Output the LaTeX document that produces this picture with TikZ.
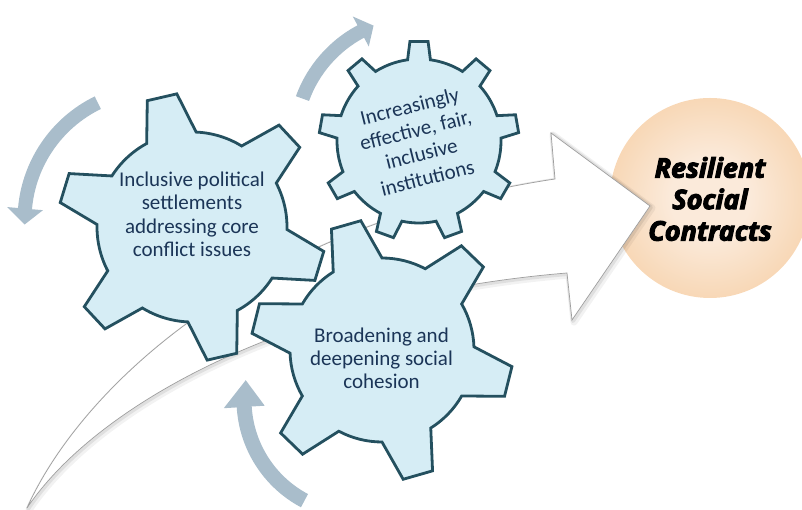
\documentclass[tikz,border=0pt]{standalone}
\usepackage{fontspec}
\newfontfamily\gfont{Carlito}
\newfontfamily\rsfont{Open Sans}[FakeBold=4]
\definecolor{gearfill}{HTML}{D6EDF5}
\definecolor{gearline}{HTML}{24505F}
\definecolor{geartext}{HTML}{1B3557}
\definecolor{bentgray}{HTML}{A9BDCB}
\definecolor{rsA}{HTML}{FBEADA}
\definecolor{rsB}{HTML}{F5CA9C}
\definecolor{rsC}{HTML}{EFB478}
\pgfdeclareradialshading{orangeglow}{\pgfpoint{0bp}{0bp}}{color(0bp)=(rsA); color(10bp)=(rsA); color(36bp)=(rsB); color(50bp)=(rsC)}
\tikzset{
  gear/.style={fill=gearfill, draw=gearline, line width=2.8pt, line join=miter},
  gtext/.style={text=geartext, align=center, font=\gfont\fontsize{21}{23.3}\selectfont},
  bent/.style={fill=bentgray},
  swoosh/.style={fill=white, draw=black!38, line width=.7pt},
  swshadow/.style={draw=black, line join=round},
  goal/.style={circle, minimum size=200pt, inner sep=0pt, shade, shading=orangeglow},
  goaltext/.style={text=black, align=center, font=\rsfont\bfseries\itshape\fontsize{27}{31.5}\selectfont}
}
% cx cy n phi R T b t
\newcommand\gearshape[8]{%
  \draw[gear, shift={(#1,#2)}] ({#4-#7}:#5pt)
    \foreach \k in {1,...,#3}{
      -- ({#4+(\k-1)*360/#3-#8}:#6pt) -- ({#4+(\k-1)*360/#3+#8}:#6pt)
      -- ({#4+(\k-1)*360/#3+#7}:#5pt)
      arc[start angle={#4+(\k-1)*360/#3+#7}, end angle={#4+\k*360/#3-#7}, radius=#5pt]
    } -- cycle;}
% cx cy r w h a1 a2 a3
\newcommand\bentarrow[8]{%
  \pgfmathsetmacro\baRo{#3+#4}\pgfmathsetmacro\baRi{#3-#4}%
  \pgfmathsetmacro\baHo{#3+#5}\pgfmathsetmacro\baHi{#3-#5}%
  \fill[bent, shift={(#1,#2)}] (#6:\baRo pt) arc[start angle=#6, end angle=#7, radius=\baRo pt]
    -- (#7:\baHo pt) -- (#8:#3pt) -- (#7:\baHi pt) -- (#7:\baRi pt)
    arc[start angle=#7, end angle=#6, radius=\baRi pt] -- cycle;}
\newcommand\swooshpath{(27,2) .. controls (80,120) and (250,285) .. (555,331)
  -- (551,377) -- (650,304) -- (572,190) -- (567,237)
  .. controls (300,215) and (100,110) .. (27,2) -- cycle}
\begin{document}
\begin{tikzpicture}[x=1pt,y=1pt]
\useasboundingbox (0,0) rectangle (802,510);
\clip (0,0) rectangle (802,510);
% goal circle
\node[goal] (rsc) at (710,312) {};
% big swoosh arrow
\draw[swshadow, line width=7pt, opacity=.05, xshift=2pt, yshift=-2pt] \swooshpath;
\draw[swshadow, line width=4pt, opacity=.08, xshift=1pt, yshift=-1pt] \swooshpath;
\draw[swoosh] \swooshpath;
\node[goaltext] (rsctext) at ([yshift=-1pt]rsc.center) {Resilient\\Social\\Contracts};
% gears
\gearshape{192}{283}{6}{103}{95}{134}{15.5}{6.5}
\gearshape{382}{160}{6}{106}{92}{131}{16}{6.7}
\gearshape{419}{369}{9}{90}{82}{100}{8}{5.2}
\node[gtext] (g1) at (192,295.7) {Inclusive political\\settlements\\addressing core\\conflict issues};
\node[gtext] (g3) at (381.5,151.8) {Broadening and\\deepening social\\cohesion};
\node[gtext, rotate=14, font=\gfont\fontsize{21}{24.5}\selectfont] (g2) at (418.5,368) {Increasingly\\effective, fair,\\inclusive\\institutions};
% rotation arrows
\bentarrow{155}{290}{130.5}{7}{18}{116}{175}{182}
\bentarrow{419}{369}{124}{7}{17}{160}{118}{111.5}
\bentarrow{358}{110}{114}{7.5}{20.5}{242}{183.5}{170}
\end{tikzpicture}
\end{document}
